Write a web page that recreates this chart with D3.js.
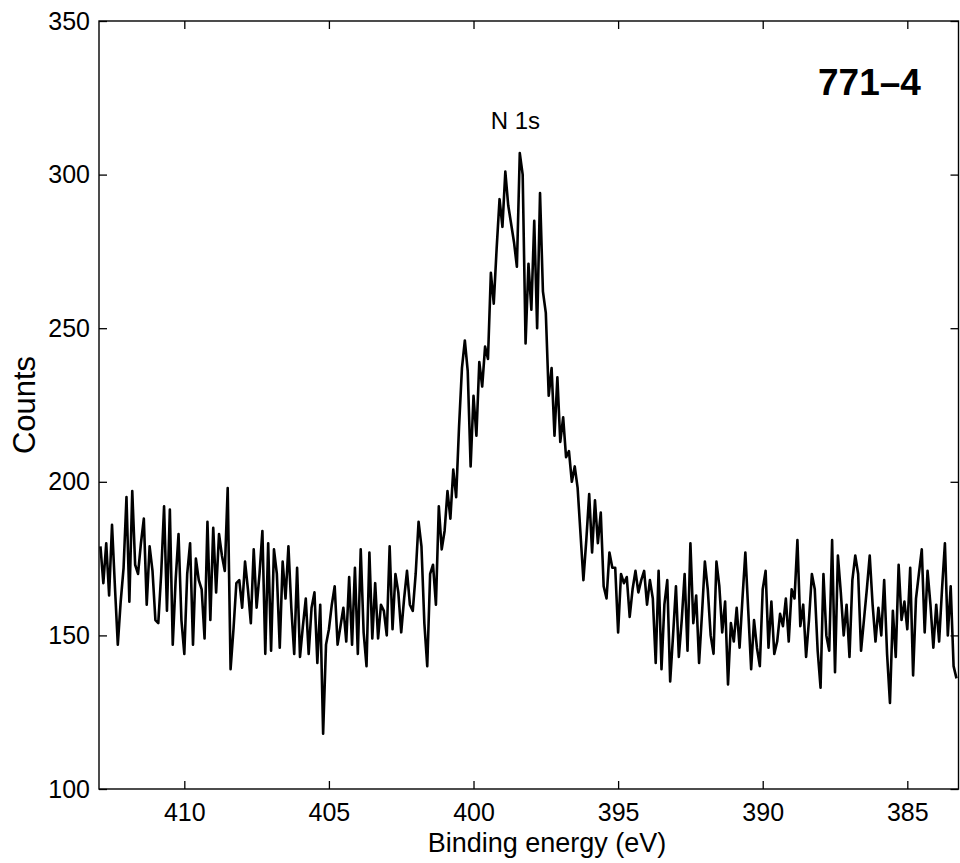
<!DOCTYPE html>
<html>
<head>
<meta charset="utf-8">
<script src="https://cdn.jsdelivr.net/npm/d3@7"></script>
<style>
  html, body { margin: 0; padding: 0; background: #fff; }
  svg { display: block; }
  text { font-family: "Liberation Sans", Arial, Helvetica, sans-serif; fill: #000; }
</style>
</head>
<body>
<svg id="chart" width="960" height="863"></svg>
<script>
// ---- data ----
const startEnergy = 412.9;   // eV, first channel
const stepEnergy = 0.1;      // eV per channel
const counts = [
  179,167,180,163,186,166,147,161,172,195,
  161,197,173,170,180,188,160,179,171,155,
  154,170,192,158,191,147,168,183,155,144,
  170,180,147,175,168,165,149,187,155,185,
  164,183,176,171,198,139,152,167,168,159,
  174,165,154,178,159,170,184,144,180,145,
  178,170,146,174,162,179,159,144,172,143,
  153,162,144,159,164,141,160,118,147,152,
  160,166,147,153,159,148,169,147,172,144,
  178,151,140,177,149,167,149,160,158,150,
  179,152,170,164,151,162,171,160,158,170,
  187,179,154,140,170,173,160,192,178,184,
  197,188,204,195,218,237,246,236,205,228,
  215,239,231,244,240,268,258,276,292,283,
  301,290,284,278,270,307,300,245,271,256,
  285,250,294,262,255,228,237,215,234,213,
  221,208,210,200,205,198,183,168,181,196,
  177,194,180,190,166,162,177,172,172,151,
  170,167,169,156,165,171,164,168,171,160,
  168,162,141,171,139,160,168,135,150,166,
  143,155,170,145,180,154,163,141,157,174,
  165,150,144,174,166,151,161,134,154,148,
  159,146,162,177,158,139,155,146,140,165,
  171,146,161,144,148,157,153,162,148,165,
  162,181,153,160,143,155,170,165,145,133,
  170,150,145,181,138,176,164,150,160,143,
  168,176,170,145,155,165,176,160,148,159,
  150,168,144,128,158,143,173,155,161,152,
  172,137,162,170,178,151,171,160,146,160,
  148,165,180,150,166,140,136
];
const xDomain = [412.95, 383.23];
const yDomain = [100, 350];
const xTicks = [410, 405, 400, 395, 390, 385];
const yTicks = [100, 150, 200, 250, 300, 350];
const xLabel = "Binding energy (eV)";
const yLabel = "Counts";
const sampleLabel = "771\u20134";
const peakLabel = "N 1s";
const peakLabelEnergy = 398.55;

// ---- layout ----
const L = 99, R = 958.5, T = 21, B = 789;
const svg = d3.select("#chart");

const x = d3.scaleLinear().domain(xDomain).range([L, R]);
const y = d3.scaleLinear().domain(yDomain).range([B, T]);

const data = counts.map((c, i) => ({ e: startEnergy - i * stepEnergy, c }));

svg.append("defs").append("clipPath").attr("id", "clip")
  .append("rect").attr("x", L).attr("y", T).attr("width", R - L).attr("height", B - T);

// line
const line = d3.line().x(d => x(d.e)).y(d => y(d.c));
svg.append("path")
  .datum(data)
  .attr("clip-path", "url(#clip)")
  .attr("fill", "none")
  .attr("stroke", "#000")
  .attr("stroke-width", 2.6)
  .attr("stroke-linejoin", "round")
  .attr("d", line);

// axes
function styleAxis(g, showText) {
  g.select(".domain").remove();
  g.selectAll(".tick line").attr("stroke", "#000").attr("stroke-width", 1.3);
  if (!showText) g.selectAll(".tick text").remove();
  else g.selectAll(".tick text").style("font-size", "25px").attr("fill", "#000")
        .style("font-family", '"Liberation Sans", Arial, Helvetica, sans-serif');
}
svg.append("g").attr("transform", `translate(0,${B})`)
  .call(d3.axisBottom(x).tickValues(xTicks).tickSize(-8).tickPadding(14).tickFormat(d3.format("d")))
  .call(g => styleAxis(g, true));
svg.append("g").attr("transform", `translate(0,${T})`)
  .call(d3.axisTop(x).tickValues(xTicks).tickSize(-8))
  .call(g => styleAxis(g, false));
svg.append("g").attr("transform", `translate(${L},0)`)
  .call(d3.axisLeft(y).tickValues(yTicks).tickSize(-8).tickPadding(9).tickFormat(d3.format("d")))
  .call(g => styleAxis(g, true));
svg.append("g").attr("transform", `translate(${R},0)`)
  .call(d3.axisRight(y).tickValues(yTicks).tickSize(-8))
  .call(g => styleAxis(g, false));

// frame
svg.append("rect")
  .attr("x", L).attr("y", T).attr("width", R - L).attr("height", B - T)
  .attr("fill", "none").attr("stroke", "#000").attr("stroke-width", 1.4);

// labels
svg.append("text")
  .attr("x", 547).attr("y", 852)
  .attr("text-anchor", "middle")
  .style("font-size", "27px")
  .text(xLabel);

svg.append("text")
  .attr("transform", "translate(35,405) rotate(-90)")
  .attr("text-anchor", "middle")
  .style("font-size", "31px")
  .text(yLabel);

svg.append("text")
  .attr("x", 818).attr("y", 95)
  .style("font-size", "37px")
  .style("font-weight", "bold")
  .text(sampleLabel);

svg.append("text")
  .attr("x", x(peakLabelEnergy)).attr("y", 129)
  .attr("text-anchor", "middle")
  .style("font-size", "24px")
  .text(peakLabel);
</script>
</body>
</html>
